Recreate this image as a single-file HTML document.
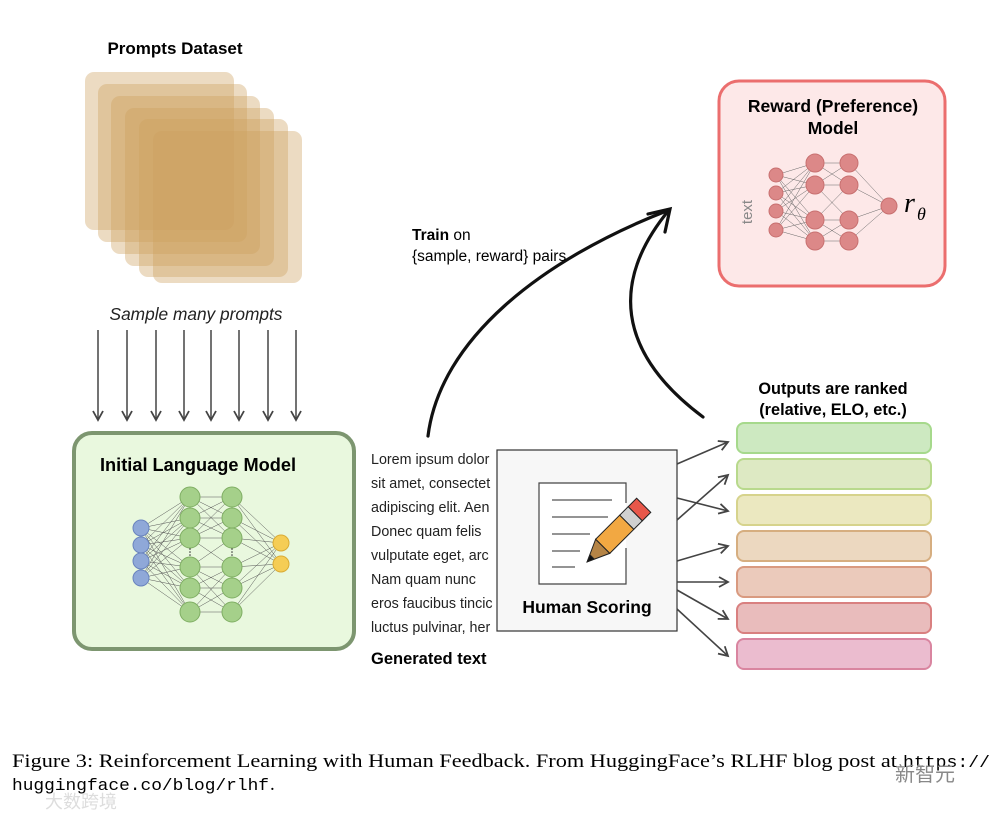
<!DOCTYPE html>
<html><head><meta charset="utf-8"><style>
body{margin:0;background:#fff;width:997px;height:819px;overflow:hidden}
svg{display:block}
.s{font-family:"Liberation Sans",sans-serif}
</style></head><body>
<svg width="997" height="819" viewBox="0 0 997 819" xmlns="http://www.w3.org/2000/svg">
<defs>
<marker id="ah" markerWidth="12" markerHeight="12" refX="10" refY="6" orient="auto" markerUnits="userSpaceOnUse">
<path d="M1,1 L10,6 L1,11" fill="none" stroke="#444" stroke-width="1.8"/></marker>
</defs>
<g fill="rgb(205,160,95)" fill-opacity="0.38">
<rect x="85" y="72" width="149" height="158" rx="9"/>
<rect x="98" y="84" width="149" height="158" rx="9"/>
<rect x="111" y="96" width="149" height="158" rx="9"/>
<rect x="125" y="108" width="149" height="158" rx="9"/>
<rect x="139" y="119" width="149" height="158" rx="9"/>
<rect x="153" y="131" width="149" height="152" rx="9"/>
</g>
<text x="175" y="54" class="s" font-size="17" font-weight="bold" text-anchor="middle">Prompts Dataset</text>
<text x="196" y="320" class="s" font-size="17.3" font-style="italic" text-anchor="middle" fill="#222">Sample many prompts</text>
<g stroke="#444" stroke-width="1.5" marker-end="url(#ah)">
<line x1="98" y1="330" x2="98" y2="420"/><line x1="127" y1="330" x2="127" y2="420"/>
<line x1="156" y1="330" x2="156" y2="420"/><line x1="184" y1="330" x2="184" y2="420"/>
<line x1="211" y1="330" x2="211" y2="420"/><line x1="239" y1="330" x2="239" y2="420"/>
<line x1="268" y1="330" x2="268" y2="420"/><line x1="296" y1="330" x2="296" y2="420"/>
</g>
<rect x="74" y="433" width="280" height="216" rx="18" fill="#e9f8de" stroke="#7d9670" stroke-width="4"/>
<text x="100" y="471" class="s" font-size="18.2" font-weight="bold">Initial Language Model</text>
<g stroke="#555" stroke-width="0.5">
<path d="M141,528L190,497M141,528L190,518M141,528L190,538M141,528L190,567M141,528L190,588M141,528L190,612
M141,545L190,497M141,545L190,518M141,545L190,538M141,545L190,567M141,545L190,588M141,545L190,612
M141,561L190,497M141,561L190,518M141,561L190,538M141,561L190,567M141,561L190,588M141,561L190,612
M141,578L190,497M141,578L190,518M141,578L190,538M141,578L190,567M141,578L190,588M141,578L190,612
M190,497L232,497M190,497L232,518M190,497L232,538M190,518L232,497M190,518L232,518M190,518L232,538M190,538L232,497M190,538L232,518M190,538L232,538
M190,567L232,567M190,567L232,588M190,567L232,612M190,588L232,567M190,588L232,588M190,588L232,612M190,612L232,567M190,612L232,588M190,612L232,612
M190,538L232,567M190,567L232,538
M232,497L281,543M232,518L281,543M232,538L281,543M232,567L281,543M232,588L281,543M232,612L281,543
M232,497L281,564M232,518L281,564M232,538L281,564M232,567L281,564M232,588L281,564M232,612L281,564"/>
</g>
<g fill="#8fa8d8" stroke="#6a84be"><circle cx="141" cy="528" r="8"/><circle cx="141" cy="545" r="8"/><circle cx="141" cy="561" r="8"/><circle cx="141" cy="578" r="8"/></g>
<g fill="#a5d08a" stroke="#7fae63">
<circle cx="190" cy="497" r="10"/><circle cx="190" cy="518" r="10"/><circle cx="190" cy="538" r="10"/><circle cx="190" cy="567" r="10"/><circle cx="190" cy="588" r="10"/><circle cx="190" cy="612" r="10"/>
<circle cx="232" cy="497" r="10"/><circle cx="232" cy="518" r="10"/><circle cx="232" cy="538" r="10"/><circle cx="232" cy="567" r="10"/><circle cx="232" cy="588" r="10"/><circle cx="232" cy="612" r="10"/>
</g>
<g fill="#333"><circle cx="190" cy="549" r="0.8"/><circle cx="190" cy="552" r="0.8"/><circle cx="190" cy="555" r="0.8"/><circle cx="232" cy="549" r="0.8"/><circle cx="232" cy="552" r="0.8"/><circle cx="232" cy="555" r="0.8"/></g>
<g fill="#f5cd55" stroke="#d9ac35"><circle cx="281" cy="543" r="8"/><circle cx="281" cy="564" r="8"/></g>
<rect x="719" y="81" width="226" height="205" rx="20" fill="#fde8e8" stroke="#eb6e6e" stroke-width="3"/>
<text x="833" y="112" class="s" font-size="17.5" font-weight="bold" text-anchor="middle">Reward (Preference)</text>
<text x="833" y="134" class="s" font-size="17.5" font-weight="bold" text-anchor="middle">Model</text>
<text transform="translate(752,212) rotate(-90)" class="s" font-size="15" fill="#888" text-anchor="middle">text</text>
<g stroke="#666" stroke-width="0.5">
<path d="M776,175L815,163M776,175L815,185M776,175L815,220M776,175L815,241M776,193L815,163M776,193L815,185M776,193L815,220M776,193L815,241M776,211L815,163M776,211L815,185M776,211L815,220M776,211L815,241M776,230L815,163M776,230L815,185M776,230L815,220M776,230L815,241
M815,163L849,163M815,163L849,185M815,185L849,163M815,185L849,185M815,185L849,220M815,220L849,185M815,220L849,220M815,220L849,241M815,241L849,220M815,241L849,241
M849,163L889,206M849,185L889,206M849,220L889,206M849,241L889,206"/>
</g>
<g fill="#dc8888" stroke="#c87070">
<circle cx="776" cy="175" r="7"/><circle cx="776" cy="193" r="7"/><circle cx="776" cy="211" r="7"/><circle cx="776" cy="230" r="7"/>
<circle cx="815" cy="163" r="9"/><circle cx="815" cy="185" r="9"/><circle cx="815" cy="220" r="9"/><circle cx="815" cy="241" r="9"/>
<circle cx="849" cy="163" r="9"/><circle cx="849" cy="185" r="9"/><circle cx="849" cy="220" r="9"/><circle cx="849" cy="241" r="9"/>
<circle cx="889" cy="206" r="8"/>
</g>
<text x="904" y="212" font-family="Liberation Serif,serif" font-style="italic" font-size="28">r</text>
<text x="917" y="220" font-family="Liberation Serif,serif" font-style="italic" font-size="18">θ</text>
<g fill="none" stroke="#111" stroke-width="3.2" stroke-linecap="round">
<path d="M428,436 C440,340 540,260 669,210"/>
<path d="M703,417 C640,370 595,300 669,210"/>
<path d="M648,214 L670,209 L665,232"/>
</g>
<text x="412" y="240" class="s" font-size="15.5"><tspan font-weight="bold">Train</tspan> on</text>
<text x="412" y="261" class="s" font-size="15.5">{sample, reward} pairs</text>
<g class="s" font-size="14.3" fill="#222">
<text x="371" y="464">Lorem ipsum dolor</text><text x="371" y="488">sit amet, consectet</text>
<text x="371" y="512">adipiscing elit. Aen</text><text x="371" y="536">Donec quam felis</text>
<text x="371" y="560">vulputate eget, arc</text><text x="371" y="584">Nam quam nunc</text>
<text x="371" y="608">eros faucibus tincic</text><text x="371" y="632">luctus pulvinar, her</text>
</g>
<text x="371" y="664" class="s" font-size="16.5" font-weight="bold">Generated text</text>
<rect x="497" y="450" width="180" height="181" fill="#f7f7f7" stroke="#333" stroke-width="1.2"/>
<path d="M626,548 L626,584 L539,584 L539,483 L626,483 L626,503" fill="#fff" stroke="#444" stroke-width="1.2"/>
<g stroke="#555" stroke-width="1.2"><line x1="552" y1="500" x2="612" y2="500"/><line x1="552" y1="517" x2="608" y2="517"/><line x1="552" y1="534" x2="590" y2="534"/><line x1="552" y1="551" x2="580" y2="551"/><line x1="552" y1="567" x2="575" y2="567"/></g>
<g transform="translate(614,535) rotate(45)" stroke="#222" stroke-width="1">
<rect x="-10" y="-42" width="20" height="12" fill="#e8574a"/>
<rect x="-10" y="-30" width="20" height="12" fill="#d0d0d0"/>
<rect x="-10" y="-18" width="20" height="34" fill="#f2a842"/>
<path d="M-10,16 L10,16 L0,38 Z" fill="#b58446"/>
<path d="M-3,31 L3,31 L0,38Z" fill="#111"/>
</g>
<text x="587" y="613" class="s" font-size="17.5" font-weight="bold" text-anchor="middle">Human Scoring</text>
<text x="833" y="394" class="s" font-size="16.3" font-weight="bold" text-anchor="middle">Outputs are ranked</text>
<text x="833" y="415" class="s" font-size="16.3" font-weight="bold" text-anchor="middle">(relative, ELO, etc.)</text>
<g stroke-width="2">
<rect x="737" y="423" width="194" height="30" rx="7" fill="#cde9c1" stroke="#a6d98c"/>
<rect x="737" y="459" width="194" height="30" rx="7" fill="#dde9c3" stroke="#b8d98c"/>
<rect x="737" y="495" width="194" height="30" rx="7" fill="#ebe8c0" stroke="#d6d38c"/>
<rect x="737" y="531" width="194" height="30" rx="7" fill="#ecd8c0" stroke="#d6ae80"/>
<rect x="737" y="567" width="194" height="30" rx="7" fill="#ebcabb" stroke="#d99a80"/>
<rect x="737" y="603" width="194" height="30" rx="7" fill="#e9bcbc" stroke="#d98080"/>
<rect x="737" y="639" width="194" height="30" rx="7" fill="#ebbccf" stroke="#d985a0"/>
</g>
<g stroke="#444" stroke-width="1.6" marker-end="url(#ah)">
<line x1="677" y1="464" x2="728" y2="442"/>
<line x1="677" y1="498" x2="728" y2="511"/>
<line x1="677" y1="520" x2="728" y2="475"/>
<line x1="677" y1="561" x2="728" y2="546"/>
<line x1="677" y1="582" x2="728" y2="582"/>
<line x1="677" y1="590" x2="728" y2="619"/>
<line x1="677" y1="609" x2="728" y2="656"/>
</g>
<text x="12" y="767" font-family="Liberation Serif,serif" font-size="19" textLength="885" lengthAdjust="spacingAndGlyphs">Figure 3: Reinforcement Learning with Human Feedback. From HuggingFace’s RLHF blog post at</text>
<text x="903" y="767" font-family="Liberation Mono,monospace" font-size="17" textLength="87" lengthAdjust="spacingAndGlyphs">https://</text>
<text x="12" y="790" font-family="Liberation Mono,monospace" font-size="17" textLength="257" lengthAdjust="spacingAndGlyphs">huggingface.co/blog/rlhf</text>
<text x="270" y="790" font-family="Liberation Serif,serif" font-size="19">.</text>
<text x="895" y="781" font-family="Liberation Sans,Noto Sans CJK SC,sans-serif" font-size="20" fill="#888">新智元</text>
<text x="45" y="808" font-family="Liberation Sans,Noto Sans CJK SC,sans-serif" font-size="18" fill="#ddd">大数跨境</text>
</svg>
</body></html>
